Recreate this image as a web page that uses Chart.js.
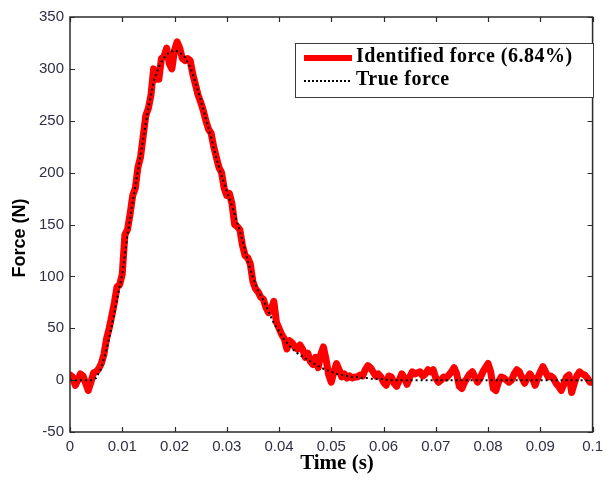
<!DOCTYPE html>
<html>
<head>
<meta charset="utf-8">
<script src="https://cdn.jsdelivr.net/npm/chart.js@4.4.0/dist/chart.umd.min.js"></script>
<style>
    html, body { margin: 0; padding: 0; background: #fff; }
</style>
</head>
<body>
<canvas id="forceChart" width="609" height="481"></canvas>
<script>
// sampling steps of the two series (seconds)
const ID_STEP = 0.0005;
const TRUE_STEP = 0.001;

// identified force (N), one value every 0.5 ms from 0 to 0.1 s
const identifiedForce = [
    5, 3, -5, 0, 6, 4, -3, -10, -2, 7,
    8, 11, 16, 25, 40, 50, 62, 75, 90, 92,
    102, 140, 145, 160, 178, 185, 205, 215, 235, 255,
    262, 275, 300, 290, 290, 310, 312, 320, 305, 300,
    318, 326, 320, 310, 308, 310, 308, 295, 285, 275,
    268, 260, 250, 242, 238, 225, 215, 205, 200, 185,
    178, 180, 170, 150, 148, 145, 130, 120, 118, 112,
    95, 88, 85, 80, 78, 70, 65, 68, 76, 56,
    50, 44, 40, 30, 38, 36, 32, 30, 34, 30,
    22, 26, 18, 15, 22, 12, 25, 32, 20, 5,
    -2, 8, 16, 10, 3, 6, 2, 4, 2, 3,
    3, 5, 4, 10, 14, 12, 8, 4, 6, 3,
    -2, -5, 4, 3, -3, -6, 0, 6, 2, -4,
    3, 8, 6, 7, 8, 4, 6, 10, 8, 10,
    2, -2, 0, 3, 2, 5, 8, 12, 6, -6,
    -8, -2, 2, 6, 8, 3, -2, 2, 8, 12,
    16, 8, -8, -10, -2, 3, 2, 0, -2, 0,
    6, 10, 8, 2, -3, 2, 6, 2, -5, 2,
    8, 13, 8, 3, 4, 2, -3, -6, -10, -4,
    3, 5, -12, -3, 4, 8, 6, 5, 2, -2,
    -2
];

// true force (N), one value every 1 ms from 0 to 0.1 s
const trueForce = [
    0, 0, 0, 0, 0, 2, 12, 30, 52, 78,
    102, 140, 172, 202, 232, 262, 288, 302, 311, 316,
    318, 316, 311, 302, 287, 270, 252, 234, 214, 197,
    182, 168, 152, 135, 115, 99, 86, 77, 66, 55,
    47, 39, 33, 28, 24, 21, 18, 15, 12, 10,
    8, 6, 5, 4, 3, 3, 2, 2, 1, 1,
    1, 0, 0, 0, 0, 0, 0, 0, 0, 0,
    0, 0, 0, 0, 0, 0, 0, 0, 0, 0,
    0, 0, 0, 0, 0, 0, 0, 0, 0, 0,
    0, 0, 0, 0, 0, 0, 0, 0, 0, 0,
    0
];

const xTickValues = [0, 0.01, 0.02, 0.03, 0.04, 0.05, 0.06, 0.07, 0.08, 0.09, 0.1];
const xTickLabels = ['0', '0.01', '0.02', '0.03', '0.04', '0.05', '0.06', '0.07', '0.08', '0.09', '0.1'];
const yTickValues = [-50, 0, 50, 100, 150, 200, 250, 300, 350];
const yTickLabels = ['-50', '0', '50', '100', '150', '200', '250', '300', '350'];

const seriesNames = ['Identified force (6.84%)', 'True force'];

const identifiedPoints = identifiedForce.map((v, i) => ({ x: i * ID_STEP, y: v }));
const truePoints = trueForce.map((v, i) => ({ x: i * TRUE_STEP, y: v }));

const frameColor = '#2b2b2b';
const labelColor = '#2f2f45';

// box round the plot, inward ticks on all four sides, titles and legend
const matlabFrame = {
    id: 'matlabFrame',
    afterDraw(chart) {
        const ctx = chart.ctx;
        const a = chart.chartArea;
        const xs = chart.scales.x;
        const ys = chart.scales.y;
        const tl = 5;

        ctx.save();
        ctx.strokeStyle = frameColor;
        ctx.lineWidth = 1.5;
        ctx.strokeRect(a.left, a.top, a.right - a.left, a.bottom - a.top);

        ctx.lineWidth = 1.2;
        ctx.beginPath();
        xTickValues.forEach(v => {
            const px = Math.round(xs.getPixelForValue(v)) + 0.5;
            ctx.moveTo(px, a.bottom); ctx.lineTo(px, a.bottom - tl);
            ctx.moveTo(px, a.top); ctx.lineTo(px, a.top + tl);
        });
        yTickValues.forEach(v => {
            const py = Math.round(ys.getPixelForValue(v)) + 0.5;
            ctx.moveTo(a.left, py); ctx.lineTo(a.left + tl, py);
            ctx.moveTo(a.right, py); ctx.lineTo(a.right - tl, py);
        });
        ctx.stroke();

        // axis titles
        ctx.fillStyle = '#000';
        ctx.textAlign = 'center';
        ctx.textBaseline = 'middle';
        ctx.font = 'bold 21px "Liberation Serif"';
        ctx.fillText('Time (s)', 337, 464);

        ctx.save();
        ctx.translate(20, 238);
        ctx.rotate(-Math.PI / 2);
        ctx.font = 'bold 18px "Liberation Sans"';
        ctx.fillText('Force (N)', 0, 0);
        ctx.restore();

        // legend
        const lx = 295, ly = 43, lw = 298, lh = 54;
        ctx.fillStyle = '#fff';
        ctx.fillRect(lx, ly, lw, lh);
        ctx.strokeStyle = '#3a3a3a';
        ctx.lineWidth = 1;
        ctx.strokeRect(lx + 0.5, ly + 0.5, lw, lh);

        ctx.strokeStyle = '#ff0000';
        ctx.lineWidth = 6;
        ctx.beginPath();
        ctx.moveTo(304, 58); ctx.lineTo(352, 58);
        ctx.stroke();

        ctx.strokeStyle = '#000';
        ctx.lineWidth = 2;
        ctx.setLineDash([2, 2]);
        ctx.beginPath();
        ctx.moveTo(304, 81); ctx.lineTo(352, 81);
        ctx.stroke();
        ctx.setLineDash([]);

        ctx.fillStyle = '#000';
        ctx.textAlign = 'left';
        ctx.font = 'bold 20px "Liberation Serif"';
        ctx.letterSpacing = '0.5px';
        ctx.fillText(seriesNames[0], 356, 57);
        ctx.fillText(seriesNames[1], 356, 80);
        ctx.restore();
    }
};

const ctx = document.getElementById('forceChart').getContext('2d');
new Chart(ctx, {
    type: 'line',
    data: {
        datasets: [{
            label: seriesNames[0],
            data: identifiedPoints,
            borderColor: '#ff0000',
            borderWidth: 7,
            borderJoinStyle: 'round',
            borderCapStyle: 'round',
            pointRadius: 0,
            tension: 0,
            order: 2
        }, {
            label: seriesNames[1],
            data: truePoints,
            borderColor: '#000000',
            borderWidth: 2,
            borderDash: [2, 3],
            pointRadius: 0,
            tension: 0,
            order: 1
        }]
    },
    options: {
        responsive: false,
        animation: false,
        events: [],
        layout: { padding: { left: 0, right: 12, top: 17, bottom: 0 } },
        plugins: {
            legend: { display: false },
            tooltip: { enabled: false }
        },
        scales: {
            x: {
                type: 'linear',
                min: 0,
                max: 0.1,
                grid: { display: false, drawTicks: false },
                border: { display: false },
                afterBuildTicks: axis => { axis.ticks = xTickValues.map(v => ({ value: v })); },
                afterFit: axis => { axis.height = 49; },
                ticks: {
                    autoSkip: false,
                    maxRotation: 0,
                    padding: 6,
                    color: labelColor,
                    font: { family: '"Liberation Sans"', size: 15 },
                    callback: (v, i) => xTickLabels[i]
                }
            },
            y: {
                min: -50,
                max: 350,
                grid: { display: false, drawTicks: false },
                border: { display: false },
                afterBuildTicks: axis => { axis.ticks = yTickValues.map(v => ({ value: v })); },
                afterFit: axis => { axis.width = 70; },
                ticks: {
                    padding: 6,
                    color: labelColor,
                    font: { family: '"Liberation Sans"', size: 15 },
                    callback: (v, i) => yTickLabels[i]
                }
            }
        }
    },
    plugins: [matlabFrame]
});
</script>
</body>
</html>
